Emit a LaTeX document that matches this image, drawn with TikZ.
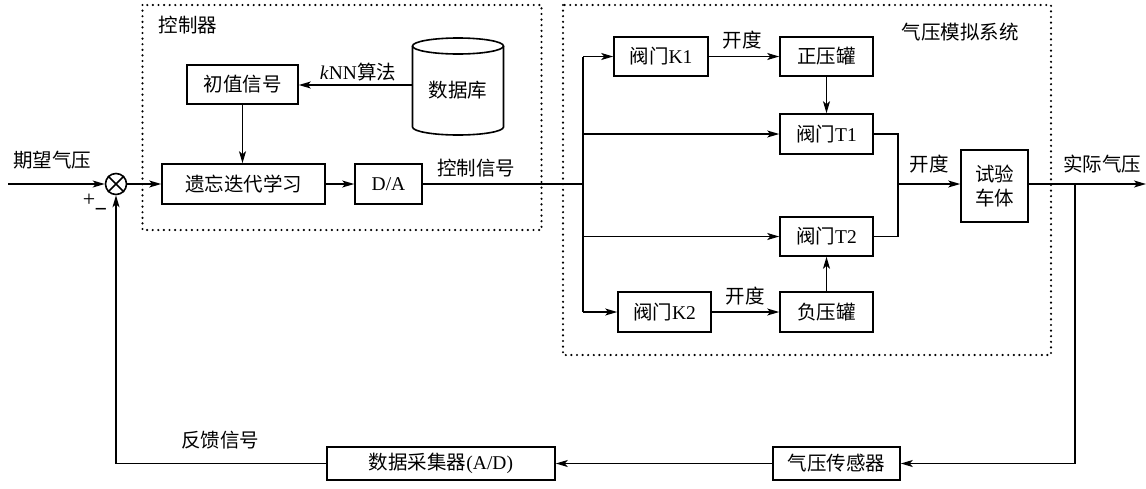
\documentclass[tikz,border=0pt]{standalone}
\usepackage{fontspec}
\setmainfont{Liberation Serif}
\newfontfamily\cjk{Noto Sans CJK SC}
\usetikzlibrary{arrows.meta}
\begin{document}
\begin{tikzpicture}[x=1pt,y=1pt,
  every node/.style={font=\fontsize{19.5}{21}\selectfont, inner sep=0pt},
  blk/.style={draw, line width=1.6pt, minimum width=#1, minimum height=39pt},
  conn/.style={line width=1.3pt},
  arr/.style={conn, -{Stealth[length=12pt,width=7pt,inset=3pt]}},
  dotbox/.style={line width=2.4pt, line cap=round, dash pattern=on 0pt off 5.6pt},
  sign/.style={font=\fontsize{22}{22}\selectfont},
  lbl/.style={}]
\useasboundingbox (0,0) rectangle (1146,-488);
% dotted frames
\draw[dotbox] (142.5,-5) rectangle (541.5,-230);
\draw[dotbox] (563,-5) rectangle (1051,-355);
% controller
\node[lbl] (lctrl) at (188,-25) {\cjk 控制器};
\node[blk=111pt] (init) at (242.5,-84.5) {\cjk 初值信号};
\node[blk=163pt, minimum height=40pt] (forget) at (243.5,-184) {\cjk 遗忘迭代学习};
\node[blk=67pt, minimum height=40pt] (da) at (388.5,-184) {D/A};
% database cylinder
\draw[line width=1.6pt] (412.5,-46) -- (412.5,-127) arc[start angle=180,end angle=360,x radius=45.5pt,y radius=8pt] -- (503.5,-46);
\draw[line width=1.6pt] (458,-46) ellipse[x radius=45.5pt,y radius=8pt];
\node (db) at (458,-90) {\cjk 数据库};
\coordinate (dbw) at (412.5,-85);
% sum junction
\node[draw, circle, line width=1.6pt, minimum size=21pt] (sum) at (116,-184) {};
\draw[line width=1.6pt] (sum.north west) -- (sum.south east) (sum.north east) -- (sum.south west);
\coordinate (in) at (8,-184);
\node[sign] (plus) at (89,-200) {+};
\node[sign] (minus) at (101,-212) {\textbf{−}};
\node (lexp) at (52,-160) {\cjk 期望气压};
% system
\node (lsys) at (960,-32) {\cjk 气压模拟系统};
\node[blk=94pt] (k1) at (661,-56.5) {{\cjk 阀门}K1};
\node[blk=93pt] (pos) at (826.5,-56.5) {\cjk 正压罐};
\node[blk=93pt, minimum height=40pt] (t1) at (826.5,-134) {{\cjk 阀门}T1};
\node[blk=93pt] (t2) at (826.5,-236.5) {{\cjk 阀门}T2};
\node[blk=93pt, minimum height=40pt] (k2) at (664.5,-312) {{\cjk 阀门}K2};
\node[blk=93pt, minimum height=40pt] (neg) at (826.5,-312) {\cjk 负压罐};
\node[blk=67pt, minimum height=72pt, align=center] (car) at (994.5,-186) {\cjk 试验\\[3pt]\cjk 车体};
\coordinate (br) at (583,-184);
\coordinate (brk1) at (583,-56.5);
\coordinate (brt1) at (583,-134);
\coordinate (brt2) at (583,-236.5);
\coordinate (brk2) at (583,-312);
\coordinate (jt1) at (898,-134);
\coordinate (jt2) at (898,-236.5);
\coordinate (j) at (898,-184);
\coordinate (out) at (1146,-184);
\coordinate (fb) at (1075,-184);
\coordinate (fbd) at (1075,-463.5);
\coordinate (fbl) at (116,-463.5);
% feedback blocks
\node[blk=228pt, minimum height=33pt] (daq) at (441,-463.5) {{\cjk 数据采集器}(A/D)};
\node[blk=127pt, minimum height=33pt] (sens) at (836.5,-463.5) {\cjk 气压传感器};
% labels
\node (lknn) at (358,-72) {\textit{k}NN{\cjk 算法}};
\node (lctl) at (476,-168) {\cjk 控制信号};
\node (lo1) at (742,-40) {\cjk 开度};
\node (lo2) at (745,-296) {\cjk 开度};
\node (lo3) at (929,-164) {\cjk 开度};
\node (lact) at (1102,-164) {\cjk 实际气压};
\node (lfb) at (220,-440) {\cjk 反馈信号};
% connectors
\draw[arr] (in) -- (sum.west);
\draw[arr] (sum.east) -- (forget.west);
\draw[arr] (init.south) -- (init.south |- forget.north);
\draw[arr] (dbw) -- (init.east |- dbw);
\draw[arr] (forget.east) -- (da.west);
\draw[conn] (da.east) -- (br);
\draw[conn] (brk1) -- (brk2);
\draw[arr] (brk1) -- (k1.west);
\draw[arr] (brt1) -- (t1.west);
\draw[arr] (brt2) -- (t2.west);
\draw[arr] (brk2) -- (k2.west);
\draw[arr] (k1.east) -- (pos.west);
\draw[arr] (k2.east) -- (neg.west);
\draw[arr] (pos.south) -- (t1.north);
\draw[arr] (neg.north) -- (t2.south);
\draw[conn] (t1.east) -- (jt1) -- (jt2) -- (t2.east);
\draw[arr] (j) -- (car.west |- j);
\draw[arr] (car.east |- out) -- (out);
\draw[conn] (fb) -- (fbd);
\draw[arr] (fbd) -- (sens.east);
\draw[arr] (sens.west) -- (daq.east);
\draw[conn] (daq.west) -- (fbl);
\draw[arr] (fbl) -- (sum.south);
\end{tikzpicture}
\end{document}
